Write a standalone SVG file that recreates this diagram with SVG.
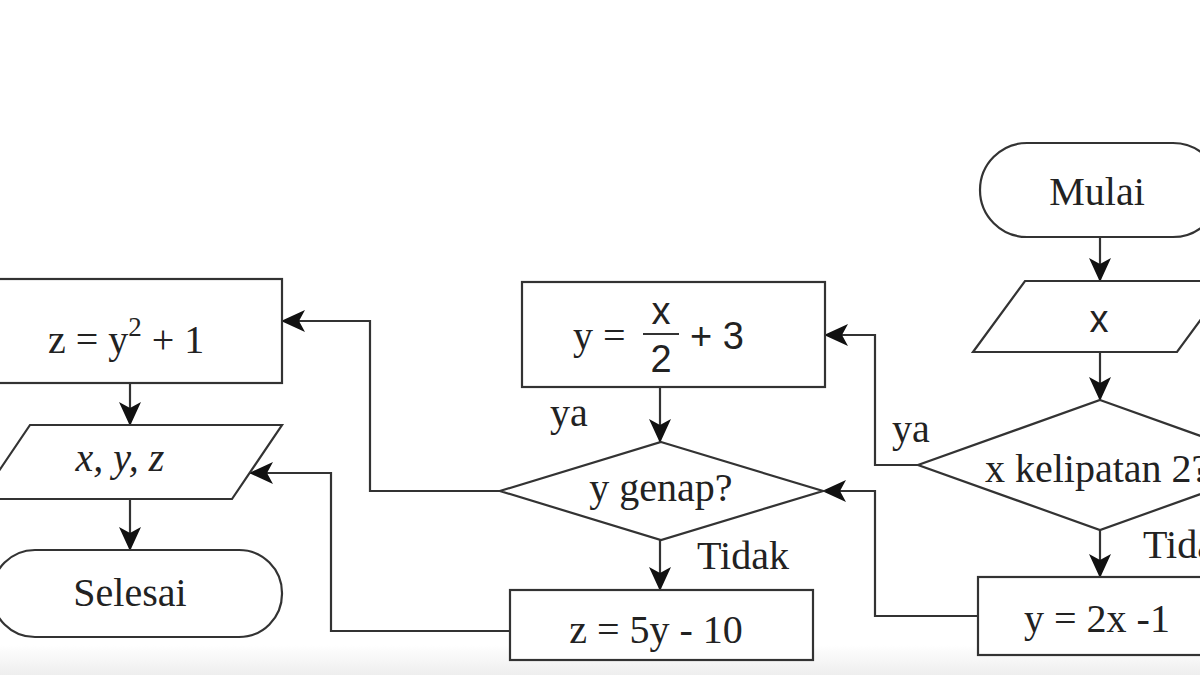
<svg xmlns="http://www.w3.org/2000/svg" width="1200" height="675" viewBox="0 0 1200 675">
<defs>
<linearGradient id="bg" x1="0" y1="0" x2="0" y2="1"><stop offset="0" stop-color="#ffffff"/><stop offset="1" stop-color="#eeeeee"/></linearGradient>
<marker id="ah" markerWidth="24" markerHeight="24" refX="23" refY="11" orient="auto" markerUnits="userSpaceOnUse" viewBox="0 0 24 22"><path d="M0,0 L24,11 L0,22 L6,11 z" fill="#111"/></marker>
</defs>
<style>
.s{fill:#fff;stroke:#333;stroke-width:2.2}
.c{fill:none;stroke:#333;stroke-width:2.2;marker-end:url(#ah)}
.t{font-family:"Liberation Serif",serif;font-size:40px;fill:#222}
.a{font-family:"Liberation Sans",sans-serif;font-size:38px;fill:#222}
.m{text-anchor:middle}
</style>
<rect x="0" y="0" width="1200" height="675" fill="#fff"/>
<rect x="0" y="645" width="1200" height="30" fill="url(#bg)"/>
<g id="connectors">
<path class="c" d="M1100,237 V281"/>
<path class="c" d="M1100,352 V400"/>
<path class="c" d="M1100,530 V577"/>
<path class="c" d="M918,465 H875 V335 H825"/>
<path class="c" d="M978,616 H875 V491 H823"/>
<path class="c" d="M660,387 V442"/>
<path class="c" d="M660,540 V590"/>
<path class="c" d="M500,491 H370 V321 H282"/>
<path class="c" d="M510,631 H331 V473 H250"/>
<path class="c" d="M130,383 V425"/>
<path class="c" d="M130,499 V550"/>
</g>
<g id="mulai"><rect class="s" x="980" y="143" width="240" height="94" rx="47"/><text class="t m" x="1097" y="205">Mulai</text></g>
<g id="input-x"><polygon class="s" points="1025,281 1229,281 1177,352 973,352"/><text class="a m" x="1099" y="332">x</text></g>
<g id="dec-x"><polygon class="s" points="1100,400 1282,465 1100,530 918,465"/><text class="t" x="985" y="482">x kelipatan 2?</text></g>
<g id="lbl-ya1"><text class="t" x="892" y="442">ya</text></g>
<g id="lbl-tidak1"><text class="t" x="1143" y="558">Tidak</text></g>
<g id="y2x"><rect class="s" x="978" y="577" width="250" height="78"/><text class="t" x="1024" y="632">y = 2x -1</text></g>
<g id="yx2"><rect class="s" x="522" y="282" width="303" height="105"/>
<text class="t" x="573" y="349">y =</text>
<line x1="643" y1="334" x2="679" y2="334" stroke="#333" stroke-width="2"/>
<text class="a m" x="661" y="324">x</text>
<text class="a m" x="661" y="372">2</text>
<text class="a" x="690" y="349">+ 3</text></g>
<g id="lbl-ya2"><text class="t" x="550" y="426">ya</text></g>
<g id="dec-y"><polygon class="s" points="661,442 823,491 661,540 500,491"/><text class="t m" x="661" y="501">y genap?</text></g>
<g id="lbl-tidak2"><text class="t" x="697" y="569">Tidak</text></g>
<g id="z5y"><rect class="s" x="510" y="590" width="303" height="70"/><text class="t m" x="656" y="643">z = 5y - 10</text></g>
<g id="zy2"><rect class="s" x="-10" y="279" width="292" height="104"/><text class="t" x="48" y="353">z = y<tspan font-size="27" dy="-17">2</tspan><tspan dy="17"> + 1</tspan></text></g>
<g id="out-xyz"><polygon class="s" points="30,425 282,425 232,499 -20,499"/><text class="t m" x="120" y="471" font-style="italic">x, y, z</text></g>
<g id="selesai"><rect class="s" x="-8" y="550" width="290" height="87" rx="43"/><text class="t m" x="130" y="606">Selesai</text></g>
</svg>
